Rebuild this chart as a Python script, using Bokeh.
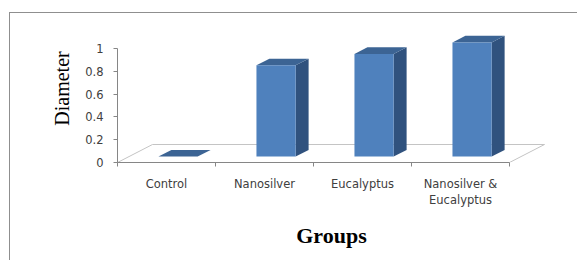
import math
from bokeh.plotting import figure
from bokeh.models import Range1d, FixedTicker
from bokeh.embed import file_html
from bokeh.resources import INLINE

# ---- data ----
categories = ["Control", "Nanosilver", "Eucalyptus", "Nanosilver &\nEucalyptus"]
diameter = [0.0, 0.8, 0.9, 1.0]
y_ticks = [0, 0.2, 0.4, 0.6, 0.8, 1.0]
y_tick_labels = ["0", "0.2", "0.4", "0.6", "0.8", "1"]

# ---- 3D look parameters (data units) ----
DX, DY = 0.357, 0.158      # floor depth offset
BW = 0.40                  # bar width
F0, F1 = 0.33, 0.70        # bar front/back depth fractions

n = len(categories)
FRONT = "#4F81BD"
SIDE = "#30527E"
TOP = "#3C6494"
AXIS = "#868686"

p = figure(width=568, height=248,
           x_range=Range1d(0, n + DX + 0.01), y_range=Range1d(0, 1.298),
           output_backend="svg", toolbar_location=None,
           min_border_left=107, min_border_right=33,
           min_border_top=1, min_border_bottom=99)
p.xgrid.visible = False
p.ygrid.visible = False
p.outline_line_color = None
p.background_fill_color = "white"
p.border_fill_color = "white"
p.styles = {"border-top": "1px solid #8f8f8f", "border-left": "1px solid #8f8f8f",
            "margin-top": "12px", "margin-left": "9px"}

# floor
p.patch([0, DX, n + DX, n], [0, DY, DY, 0], fill_color="white",
        line_color="#c4c4c4", line_width=1)

# bars
lefts = [i + 0.5 - BW / 2 + F0 * DX for i in range(n)]
rights = [l + BW for l in lefts]
bottoms = [F0 * DY] * n
tops = [v + F0 * DY for v in diameter]
ddx, ddy = (F1 - F0) * DX, (F1 - F0) * DY

side_xs = [[r, r + ddx, r + ddx, r] for r in rights]
side_ys = [[b, b + ddy, t + ddy, t] for b, t in zip(bottoms, tops)]
top_xs = [[l, r, r + ddx, l + ddx] for l, r in zip(lefts, rights)]
top_ys = [[t, t, t + ddy, t + ddy] for t in tops]

p.patches(side_xs, side_ys, fill_color=SIDE, line_color=None)
p.patches(top_xs, top_ys, fill_color=TOP, line_color=None)
p.quad(left=lefts, right=rights, bottom=bottoms, top=tops,
       fill_color=FRONT, line_color=None)

# x axis
xa = p.xaxis[0]
xa.ticker = FixedTicker(ticks=[i + 0.5 for i in range(n)],
                        minor_ticks=list(range(n + 1)))
xa.major_label_overrides = {i + 0.5: c for i, c in enumerate(categories)}
xa.bounds = (0, n)
xa.major_tick_out = 0
xa.major_tick_in = 0
xa.major_tick_line_color = None
xa.minor_tick_out = 4
xa.minor_tick_in = 0
xa.minor_tick_line_color = AXIS
xa.axis_line_color = AXIS
xa.major_label_standoff = 10
xa.major_label_text_font = "DejaVu Sans"
xa.major_label_text_font_size = "11.5px"
xa.major_label_text_color = "#404040"
xa.axis_label = "Groups"
xa.axis_label_text_font = "Liberation Serif"
xa.axis_label_text_font_size = "22px"
xa.axis_label_text_font_style = "bold"
xa.axis_label_text_color = "black"
xa.axis_label_standoff = 13

# y axis
ya = p.yaxis[0]
ya.ticker = FixedTicker(ticks=y_ticks)
ya.major_label_overrides = dict(zip(y_ticks, y_tick_labels))
ya.bounds = (0, 1)
ya.major_tick_out = 4
ya.major_tick_in = 0
ya.minor_tick_line_color = None
ya.major_tick_line_color = AXIS
ya.axis_line_color = AXIS
ya.major_label_standoff = 10
ya.major_label_text_font = "DejaVu Sans"
ya.major_label_text_font_size = "11.5px"
ya.major_label_text_color = "#404040"
ya.axis_label = "Diameter"
ya.axis_label_text_font = "Liberation Serif"
ya.axis_label_text_font_size = "20px"
ya.axis_label_text_font_style = "normal"
ya.axis_label_text_color = "black"
ya.axis_label_standoff = 9

open("out.html", "w").write(file_html(p, INLINE))
